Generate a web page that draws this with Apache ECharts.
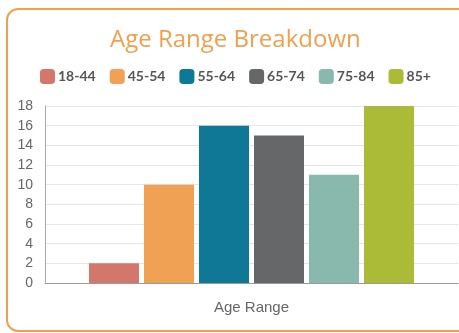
<!DOCTYPE html>
<html>
<head>
<meta charset="utf-8">
<script src="https://cdn.jsdelivr.net/npm/echarts@6/dist/echarts.min.js"></script>
<style>
  html, body { margin: 0; padding: 0; background: #fff; overflow: hidden; }
  .card {
    position: absolute;
    left: 6px;
    top: 8px;
    width: 470px;
    height: 320px;
    border: 2.5px solid #f0a04f;
    border-radius: 12px;
  }
  #chart { position: absolute; left: 0; top: 0; width: 459px; height: 333px; }
</style>
</head>
<body>
<div class="card"></div>
<div id="chart"></div>
<script>
// data
var categories = ['Age Range']
var seriesNames = ['18-44', '45-54', '55-64', '65-74', '75-84', '85+']
var seriesValues = [2, 10, 16, 15, 11, 18]
var seriesColors = ['#d3766b', '#f0a154', '#0f7896', '#666769', '#89b8ac', '#abbb38']
var yTicks = { min: 0, max: 18, interval: 2 }

var chart = echarts.init(document.getElementById('chart'))

var series = seriesNames.map(function(name, i) {
  return {
    name: name,
    type: 'bar',
    data: [seriesValues[i]],
    barWidth: 50,
    barGap: '10%',
    itemStyle: { color: seriesColors[i] }
  }
})

chart.setOption({
  animation: false,
  title: {
    text: 'Age Range Breakdown',
    left: 105,
    top: 23,
    textStyle: {
      color: '#f0a04f',
      fontSize: 24,
      fontWeight: 'normal',
      fontFamily: 'Open Sans'
    }
  },
  legend: {
    top: 64,
    left: 35,
    icon: 'roundRect',
    itemWidth: 15,
    itemHeight: 15,
    itemGap: 14,
    textStyle: {
      color: '#555',
      fontSize: 14,
      fontWeight: 'bold',
      fontFamily: 'Lato',
      padding: [0, 0, 0, -2]
    },
    data: seriesNames
  },
  grid: { left: 45, right: 1, top: 106, bottom: 50, containLabel: false },
  xAxis: {
    type: 'category',
    data: categories,
    axisLine: { lineStyle: { color: '#9a9a9a' } },
    axisTick: { length: 14, lineStyle: { color: '#aaa' } },
    axisLabel: { color: '#666', fontSize: 15, margin: 17, fontFamily: 'Liberation Sans' }
  },
  yAxis: {
    type: 'value',
    min: yTicks.min,
    max: yTicks.max,
    interval: yTicks.interval,
    axisLine: { show: true, lineStyle: { color: '#aaa' } },
    axisTick: { show: false },
    splitLine: { lineStyle: { color: '#e5e5e5' } },
    axisLabel: { color: '#666', fontSize: 14, margin: 12, fontFamily: 'Liberation Sans' }
  },
  series: series
})
</script>
</body>
</html>
